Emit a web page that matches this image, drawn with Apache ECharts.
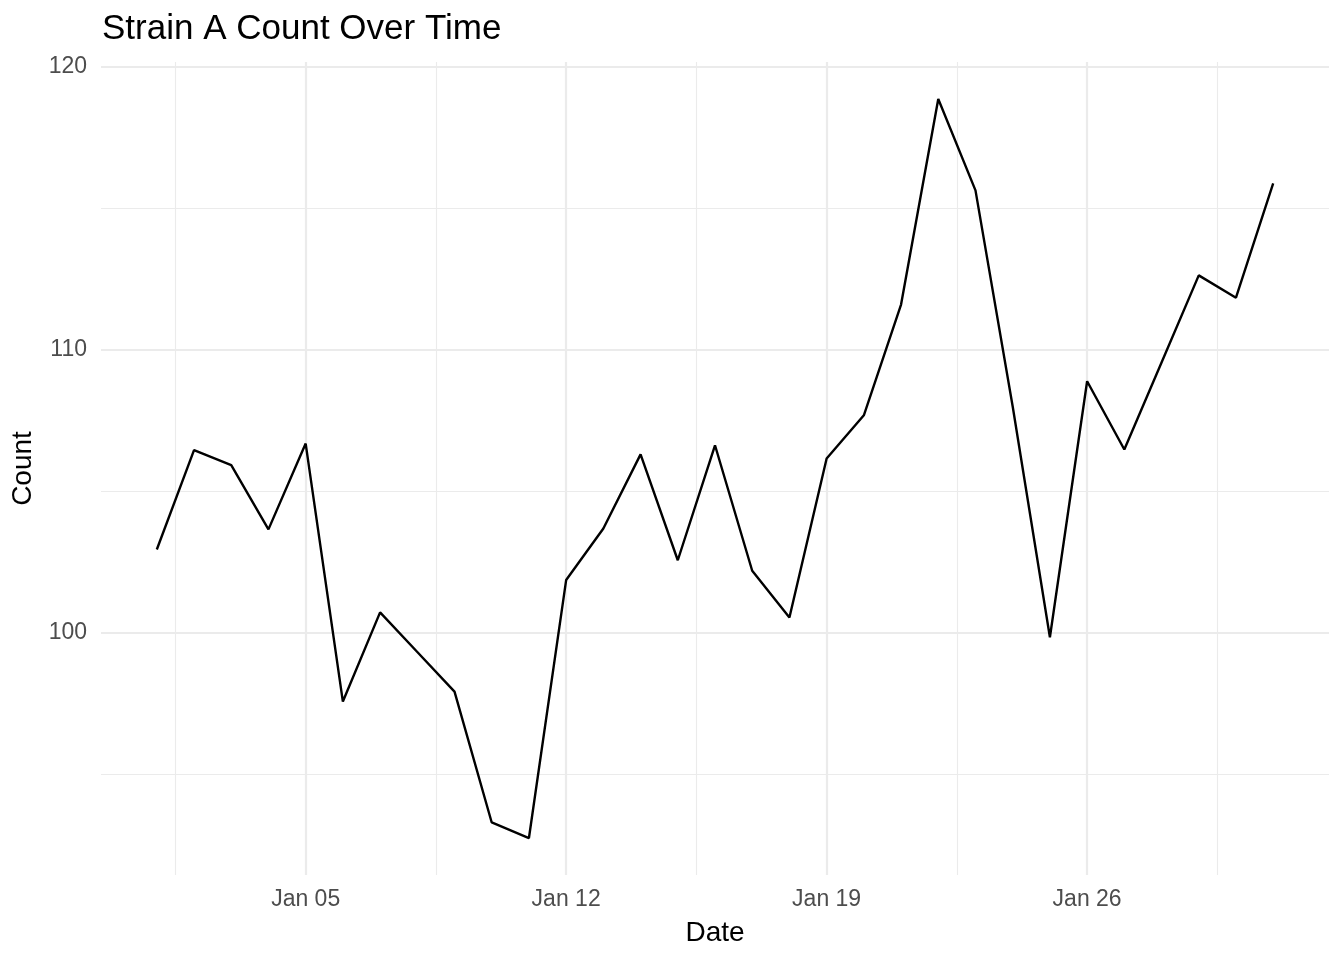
<!DOCTYPE html>
<html>
<head>
<meta charset="utf-8">
<title>Strain A Count Over Time</title>
<script src="https://cdn.jsdelivr.net/npm/echarts@6/dist/echarts.min.js"></script>
<style>
  html, body { margin: 0; padding: 0; background: #fff; }
  #main { width: 1344px; height: 960px; }
</style>
</head>
<body>
<div id="main"></div>
<script>
// daily counts, Jan 2024
var dates = [
  '2024-01-01','2024-01-02','2024-01-03','2024-01-04','2024-01-05','2024-01-06','2024-01-07',
  '2024-01-08','2024-01-09','2024-01-10','2024-01-11','2024-01-12','2024-01-13','2024-01-14',
  '2024-01-15','2024-01-16','2024-01-17','2024-01-18','2024-01-19','2024-01-20','2024-01-21',
  '2024-01-22','2024-01-23','2024-01-24','2024-01-25','2024-01-26','2024-01-27','2024-01-28',
  '2024-01-29','2024-01-30','2024-01-31'
];
var counts = [
  102.95, 106.46, 105.93, 103.66, 106.69, 97.58, 100.73,
  99.33, 97.93, 93.31, 92.76, 101.87, 103.69, 106.31,
  102.57, 106.63, 102.20, 100.55, 106.16, 107.69, 111.60,
  118.86, 115.63, 108.00, 99.85, 108.89, 106.48, 109.55,
  112.63, 111.84, 115.88
];

// axis breaks (day of month for x)
var xMajor = [5, 12, 19, 26];
var xMinor = [1.5, 8.5, 15.5, 22.5, 29.5];
var xTickLabels = ['Jan 05', 'Jan 12', 'Jan 19', 'Jan 26'];
var yMajor = [100, 110, 120];
var yMinor = [95, 105, 115];

var FONT = 'Liberation Sans, Arial, Helvetica, sans-serif';
var GRID_COL = '#ebebeb';

function dayOf(s) {
  return parseInt(s.split('-')[2], 10);
}

var points = [];
for (var i = 0; i < dates.length; i++) {
  points.push([dayOf(dates[i]), counts[i]]);
}

// ggplot style 5% padding
var xLo = dayOf(dates[0]), xHi = dayOf(dates[dates.length - 1]);
var xPad = (xHi - xLo) * 0.05;
var yLo = Math.min.apply(null, counts), yHi = Math.max.apply(null, counts);
var yPad = (yHi - yLo) * 0.05;

var gridLines = [];
xMajor.forEach(function (v) { gridLines.push({ xAxis: v, lineStyle: { width: 2.2 } }); });
xMinor.forEach(function (v) { gridLines.push({ xAxis: v, lineStyle: { width: 1.1 } }); });
yMajor.forEach(function (v) { gridLines.push({ yAxis: v, lineStyle: { width: 2.2 } }); });
yMinor.forEach(function (v) { gridLines.push({ yAxis: v, lineStyle: { width: 1.1 } }); });

var myChart = echarts.init(document.getElementById('main'));

var option = {
  backgroundColor: '#fff',
  animation: false,
  title: {
    text: 'Strain A Count Over Time',
    left: 97,
    top: 7,
    textStyle: { fontFamily: FONT, fontSize: 35, fontWeight: 'normal', color: '#000' }
  },
  grid: { left: 101, right: 15, top: 62, bottom: 85 },
  xAxis: {
    type: 'value',
    min: xLo - xPad,
    max: xHi + xPad,
    name: 'Date',
    nameLocation: 'middle',
    nameGap: 44,
    nameTextStyle: { fontFamily: FONT, fontSize: 28, color: '#000' },
    axisLine: { show: false },
    axisTick: { show: false },
    splitLine: { show: false },
    axisLabel: {
      customValues: xMajor,
      margin: 13,
      fontFamily: FONT,
      fontSize: 23,
      color: '#4d4d4d',
      formatter: function (v) { return xTickLabels[xMajor.indexOf(v)]; }
    }
  },
  yAxis: {
    type: 'value',
    min: yLo - yPad,
    max: yHi + yPad,
    name: 'Count',
    nameLocation: 'middle',
    nameGap: 52,
    nameTextStyle: { fontFamily: FONT, fontSize: 28, color: '#000' },
    axisLine: { show: false },
    axisTick: { show: false },
    splitLine: { show: false },
    axisLabel: {
      customValues: yMajor,
      margin: 14,
      fontFamily: FONT,
      fontSize: 23,
      color: '#4d4d4d'
    }
  },
  series: [
    {
      // carrier for the panel grid
      type: 'line',
      data: points,
      silent: true,
      showSymbol: false,
      lineStyle: { opacity: 0 },
      z: 1,
      markLine: {
        z: 1,
        silent: true,
        symbol: ['none', 'none'],
        label: { show: false },
        lineStyle: { color: GRID_COL, type: 'solid' },
        data: gridLines
      }
    },
    {
      name: 'Strain A',
      type: 'line',
      data: points,
      showSymbol: false,
      lineStyle: { color: '#000', width: 2.4 },
      z: 3
    }
  ]
};

myChart.setOption(option);
window.onresize = myChart.resize;
</script>
</body>
</html>
